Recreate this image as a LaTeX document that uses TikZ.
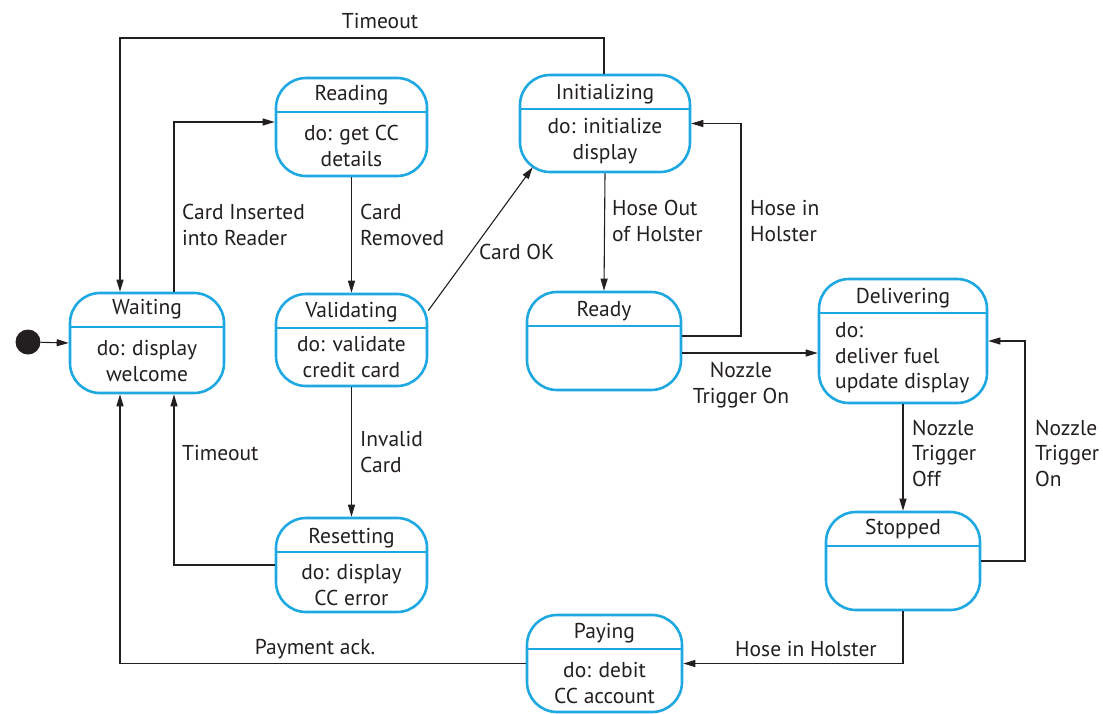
\documentclass[tikz,border=0pt]{standalone}
\usepackage{fontspec}
\setmainfont{PT Sans}
\usetikzlibrary{arrows.meta,calc,positioning}
\definecolor{stateblue}{RGB}{30,168,226}
\definecolor{inkgray}{RGB}{35,31,32}

\begin{document}
\begin{tikzpicture}[x=1pt, y=-1pt,
    every node/.style={text=inkgray, font=\fontsize{21.5}{25.5}\selectfont},
    state/.style={draw=stateblue, line width=2.6pt, rounded corners=30pt, inner sep=0pt,
        path picture={\draw[stateblue, line width=1.2pt]
            ([yshift=-34pt]path picture bounding box.north west) -- ([yshift=-34pt]path picture bounding box.north east);}},
    ttl/.style={inner sep=0pt, anchor=center},
    body/.style={inner sep=0pt, align=center},
    lbl/.style={inner sep=0pt, anchor=west, align=left},
    trans/.style={draw=inkgray, line width=1.1pt, -{Triangle[length=12pt, width=7pt]}}]
    \useasboundingbox (0,0) rectangle (1103,713);
    % states
    \node[circle, fill=inkgray, minimum size=25pt, inner sep=0pt] (start) at (28,342) {};
    \node[state, minimum width=154pt, minimum height=100pt] (wait) at (147,343) {};
    \node[state, minimum width=151pt, minimum height=98pt] (read) at (351.5,127) {};
    \node[state, minimum width=170pt, minimum height=97pt] (init) at (605,123.5) {};
    \node[state, minimum width=151pt, minimum height=92pt] (valid) at (351.5,340) {};
    \node[state, minimum width=154pt, minimum height=98pt] (ready) at (604,341) {};
    \node[state, minimum width=168pt, minimum height=124pt] (deliv) at (903,341) {};
    \node[state, minimum width=151pt, minimum height=94pt] (reset) at (351.5,565) {};
    \node[state, minimum width=154pt, minimum height=98pt] (stop) at (903,561) {};
    \node[state, minimum width=155pt, minimum height=97pt] (pay) at (604.5,663.5) {};
    % state texts
    \node[ttl] (waitT) at (147,309) {Waiting};
    \node[body] (waitB) at (147,361) {do: display\\welcome};
    \node[ttl] (readT) at (351.5,95) {Reading};
    \node[body] (readB) at (351.5,146) {do: get CC\\details};
    \node[ttl] (initT) at (605,94) {Initializing};
    \node[body] (initB) at (605,141) {do: initialize\\display};
    \node[ttl] (validT) at (351.5,312) {Validating};
    \node[body] (validB) at (351.5,357) {do: validate\\credit card};
    \node[ttl] (readyT) at (604,311) {Ready};
    \node[ttl] (delivT) at (903,298) {Delivering};
    \node[body, anchor=west, align=left] (delivB) at (835,358) {do:\\deliver fuel\\update display};
    \node[ttl] (resetT) at (351.5,538) {Resetting};
    \node[body] (resetB) at (351.5,585) {do: display\\CC error};
    \node[ttl] (stopT) at (903,529) {Stopped};
    \node[ttl] (payT) at (604.5,633) {Paying};
    \node[body] (payB) at (604.5,683) {do: debit\\CC account};
    % helper points
    \coordinate (tmo) at (380,38);
    \coordinate (hih) at (741,230);
    \coordinate (nto) at (1025,450);
    % transitions
    \draw[trans] (start) -- (wait.west);
    \draw[trans] ([xshift=27pt]wait.north) |- ([yshift=5pt]read.west);
    \draw[trans] ([xshift=-1pt]init.north) -- ([xshift=-1pt]init.north |- tmo) -| ([xshift=-27pt]wait.north);
    \draw[trans] (read.south) -- (valid.north);
    \draw[trans] (valid.21.5) -- ([xshift=14pt, yshift=6pt]init.south west);
    \draw[trans] (valid.south) -- (reset.north);
    \draw[trans] (reset.west) -| ([xshift=27pt]wait.south);
    \draw[trans] (init.south) -- (ready.north);
    \draw[trans] ([yshift=5pt]ready.east) -| (hih) |- (init.east);
    \draw[trans] ([yshift=-12pt]ready.east) coordinate (nti) -- (nti -| deliv.west);
    \draw[trans] (deliv.south) -- (stop.north);
    \draw[trans] (stop.east) -| (nto) |- (deliv.east);
    \draw[trans] (stop.south) |- (pay.east);
    \draw[trans] (pay.west) -| ([xshift=-27pt]wait.south);
    % labels
    \node (lTmoA) at (380,21) {Timeout};
    \node[lbl] (lIns) at (182,225) {Card Inserted\\into Reader};
    \node[lbl] (lRem) at (360,225) {Card\\Removed};
    \node[lbl] (lOk) at (479,252) {Card OK};
    \node[lbl] (lInv) at (360,452) {Invalid\\Card};
    \node[lbl] (lTmoB) at (182,453) {Timeout};
    \node[lbl] (lOut) at (612,221) {Hose Out\\of Holster};
    \node[lbl] (lIn) at (750,221) {Hose in\\Holster};
    \node[inner sep=0pt, align=center] (lOnA) at (741,385) {Nozzle\\Trigger On};
    \node[lbl] (lOff) at (912,453) {Nozzle\\Trigger\\Off};
    \node[lbl] (lOnB) at (1035,453) {Nozzle\\Trigger\\On};
    \node (lHose) at (806,649) {Hose in Holster};
    \node (lPay) at (315,649) {Payment ack.};
\end{tikzpicture}
\end{document}
